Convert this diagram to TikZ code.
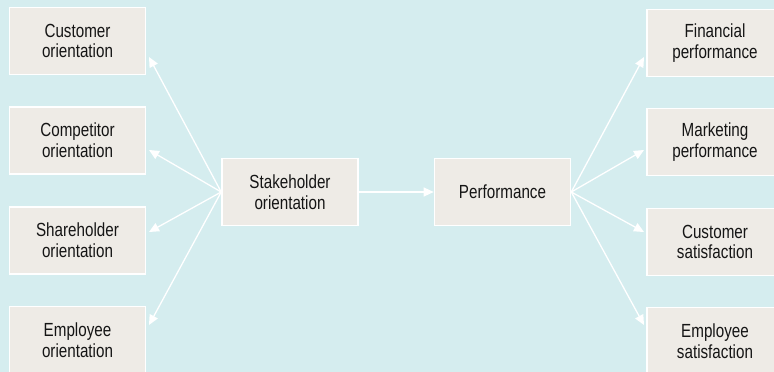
\documentclass[tikz,border=0pt]{standalone}
\usepackage{fontspec}
\setmainfont{Liberation Sans}[FakeStretch=0.8]
\usetikzlibrary{arrows.meta}
\definecolor{bg}{HTML}{D5EDEF}
\definecolor{boxfill}{HTML}{EEEBE6}
\definecolor{txt}{HTML}{151515}
\tikzset{
  box/.style={draw=white, line width=1.6pt, fill=boxfill, minimum width=136pt, minimum height=67pt,
    inner sep=0pt, align=center, text=txt, font=\fontsize{19}{20.7}\selectfont},
  link/.style={draw=white, line width=1.3pt, -{Triangle[length=10pt,width=9pt]}}
}
\begin{document}
\begin{tikzpicture}[x=1pt,y=1pt]
\fill[bg] (0,0) rectangle (774,372);
\useasboundingbox (0,0) rectangle (774,372);
% left boxes
\node[box] (co) at (77.5,331) {Customer\\orientation};
\node[box] (cp) at (77.5,231.5) {Competitor\\orientation};
\node[box] (sh) at (77.5,131.5) {Shareholder\\orientation};
\node[box] (em) at (77.5,32) {Employee\\orientation};
% middle
\node[box] (st) at (290,180) {Stakeholder\\orientation};
\node[box] (pf) at (502.5,180) {Performance};
% right boxes
\node[box] (fp) at (715,329) {Financial\\performance};
\node[box] (mp) at (715,230) {Marketing\\performance};
\node[box] (cs) at (715,130) {Customer\\satisfaction};
\node[box] (es) at (715,31) {Employee\\satisfaction};
% arrow end points
\coordinate (l1) at (149,315);
\coordinate (l2) at (149,222);
\coordinate (l3) at (149,140);
\coordinate (l4) at (149,47);
\coordinate (r1) at (644,315);
\coordinate (r2) at (644,222);
\coordinate (r3) at (644,140);
\coordinate (r4) at (644,47);
\foreach \t in {l1,l2,l3,l4} \draw[link] (st.west) -- (\t);
\foreach \t in {r1,r2,r3,r4} \draw[link] (pf.east) -- (\t);
\draw[link] (st.east) -- (pf.west);
\end{tikzpicture}
\end{document}
